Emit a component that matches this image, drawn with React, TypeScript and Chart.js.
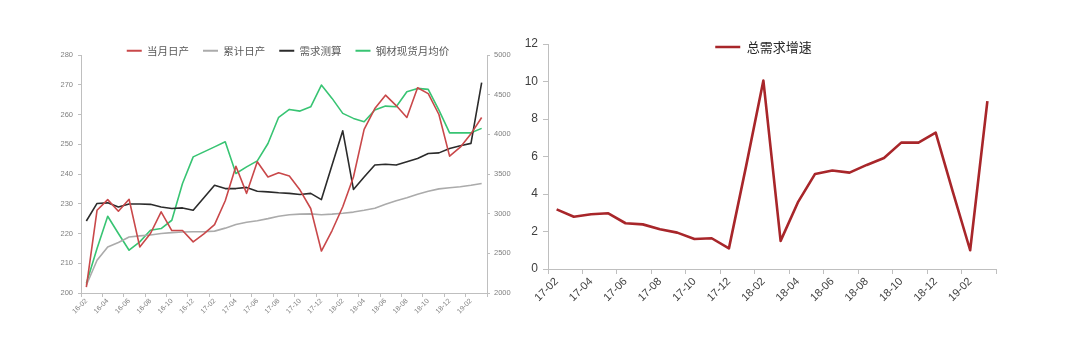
import React, { useEffect, useRef } from 'react';
import { Chart, registerables } from 'chart.js';

Chart.register(...registerables);

// ---------- Left chart data ----------
const leftMonths = [
  '16-02', '16-03', '16-04', '16-05', '16-06', '16-07', '16-08', '16-09', '16-10', '16-11', '16-12',
  '17-01', '17-02', '17-03', '17-04', '17-05', '17-06', '17-07', '17-08', '17-09', '17-10', '17-11', '17-12',
  '18-01', '18-02', '18-03', '18-04', '18-05', '18-06', '18-07', '18-08', '18-09', '18-10', '18-11', '18-12',
  '19-01', '19-02', '19-03',
];
const dailyOutput = [
  202, 227.8, 231.4, 227.5, 231.5, 215.5, 220, 227.3, 221, 221, 217.2,
  219.9, 223, 231, 242.6, 233.5, 244.1, 239, 240.4, 239.3, 234.6, 228.4, 214.1,
  221, 229, 239, 255, 262, 266.5, 263, 259, 269, 267, 260, 246,
  249, 253.5, 259,
];
const cumulativeOutput = [
  202.6, 211, 215.5, 217, 218.8, 219.2, 219.5, 220, 220.3, 220.5, 220.6,
  220.6, 220.8, 221.8, 223, 223.8, 224.3, 225, 225.8, 226.3, 226.5, 226.6, 226.3,
  226.5, 226.8, 227.2, 227.8, 228.5, 229.8, 231, 232, 233.2, 234.2, 235, 235.4,
  235.7, 236.2, 236.8,
];
const demandEstimate = [
  224.2, 230.1, 230.3, 228.9, 229.9, 229.9, 229.8, 228.9, 228.4, 228.6, 227.8,
  232, 236.2, 235.1, 235.1, 235.5, 234.2, 234, 233.7, 233.5, 233.1, 233.5, 231.4,
  243, 254.5, 234.8, 239, 243, 243.3, 243, 244.1, 245.2, 246.9, 247.1, 248.6,
  249.5, 250.3, 270.7,
];
const steelPrice = [
  2119, 2560, 2968, 2750, 2539, 2644, 2791, 2812, 2917, 3380, 3716,
  3779, 3842, 3906, 3507, 3590, 3666, 3885, 4215, 4314, 4293, 4347, 4621,
  4453, 4264, 4201, 4158, 4306, 4356, 4347, 4537, 4579, 4567, 4306, 4019,
  4019, 4019, 4075,
];
const leftSeriesNames = ['当月日产', '累计日产', '需求测算', '钢材现货月均价'];

// ---------- Right chart data ----------
const rightMonths = [
  '17-02', '17-03', '17-04', '17-05', '17-06', '17-07', '17-08', '17-09', '17-10', '17-11', '17-12',
  '18-01', '18-02', '18-03', '18-04', '18-05', '18-06', '18-07', '18-08', '18-09', '18-10', '18-11', '18-12',
  '19-01', '19-02', '19-03',
];
const demandGrowth = [
  3.18, 2.79, 2.92, 2.97, 2.44, 2.38, 2.12, 1.94, 1.6, 1.64, 1.1,
  5.5, 10.05, 1.5, 3.55, 5.07, 5.25, 5.14, 5.55, 5.92, 6.74, 6.74, 7.27,
  4.1, 1.0, 8.95,
];
const rightSeriesName = '总需求增速';

const NUM_FONT = "'Liberation Sans', Arial, sans-serif";
const CJK_FONT = "'Noto Sans CJK SC', 'Noto Sans', sans-serif";
const AXIS_COLOR = '#BFBFBF';

// Reserve a fixed legend height in the layout, then place the legend box
// centred at (cx, cy) in canvas coordinates before drawing.
function legendPlace(h: number, cx: number, cy: number, pad: number, fontSize: number) {
  return {
    id: 'legendPlace',
    beforeInit(chart: any) {
      const legend = chart.legend;
      if (!legend || legend.__patched) return;
      const orig = legend.fit;
      legend.fit = function () {
        orig.call(this);
        this.height = h;
      };
      legend.__patched = true;
    },
    beforeDraw(chart: any) {
      const lg = chart.legend;
      if (!lg) return;
      lg.top = cy - pad - fontSize / 2;
      lg.bottom = lg.top + 2 * pad + fontSize + 6;
      lg.height = lg.bottom - lg.top;
      lg.left = cx - 270;
      lg.right = cx + 270;
      lg.width = 540;
    },
  };
}

const lineLegendLabels = (chart: any) =>
  Chart.defaults.plugins.legend.labels.generateLabels(chart).map((l: any) => ({
    ...l,
    fillStyle: l.strokeStyle,
    lineWidth: 0,
  }));

const everyOther = (c: any) =>
  c.index === undefined || c.index % 2 === 0 ? AXIS_COLOR : 'rgba(0,0,0,0)';

const plainNumber = (v: any) => String(v);

function LeftChart() {
  const ref = useRef<HTMLCanvasElement | null>(null);
  useEffect(() => {
    if (!ref.current) return;
    const ds = (label: string, data: number[], color: string, axis: string) => ({
      label,
      data,
      borderColor: color,
      backgroundColor: color,
      borderWidth: 1.6,
      pointRadius: 0,
      tension: 0,
      yAxisID: axis,
      borderJoinStyle: 'round' as const,
    });
    const chart = new Chart(ref.current, {
      type: 'line',
      data: {
        labels: leftMonths,
        datasets: [
          ds(leftSeriesNames[0], dailyOutput, '#C9484A', 'y'),
          ds(leftSeriesNames[1], cumulativeOutput, '#ABABAB', 'y'),
          ds(leftSeriesNames[2], demandEstimate, '#2B2B2B', 'y'),
          ds(leftSeriesNames[3], steelPrice, '#38C473', 'y1'),
        ],
      },
      options: {
        responsive: false,
        animation: false,
        layout: { padding: { left: 46, top: 0, right: 0, bottom: 0 } },
        plugins: {
          tooltip: { enabled: false },
          legend: {
            position: 'top',
            labels: {
              boxWidth: 15,
              boxHeight: 2,
              padding: 14,
              color: '#595959',
              font: { family: CJK_FONT, size: 10.5 },
              generateLabels: lineLegendLabels,
            },
          },
        },
        scales: {
          x: {
            type: 'category',
            offset: true,
            grid: { offset: true, drawOnChartArea: false, tickLength: 4, color: everyOther },
            border: { color: AXIS_COLOR },
            ticks: {
              autoSkip: false,
              minRotation: 45,
              maxRotation: 45,
              padding: 0,
              color: '#7F7F7F',
              font: { family: NUM_FONT, size: 7 },
              callback: (_v: any, i: number) => (i % 2 === 0 ? leftMonths[i] : ''),
            },
            afterFit: (s: any) => {
              s.height = 62;
            },
          },
          y: {
            position: 'left',
            min: 200,
            max: 280,
            grid: { drawOnChartArea: false, tickLength: 3, color: AXIS_COLOR },
            border: { color: AXIS_COLOR },
            ticks: {
              stepSize: 10,
              padding: 5,
              color: '#7F7F7F',
              font: { family: NUM_FONT, size: 7.5 },
              callback: plainNumber,
            },
            afterFit: (s: any) => {
              s.width = 35;
            },
          },
          y1: {
            position: 'right',
            min: 2000,
            max: 5000,
            grid: { drawOnChartArea: false, tickLength: 3, color: AXIS_COLOR },
            border: { color: AXIS_COLOR },
            ticks: {
              stepSize: 500,
              padding: 4,
              color: '#7F7F7F',
              font: { family: NUM_FONT, size: 7.5 },
              callback: plainNumber,
            },
            afterFit: (s: any) => {
              s.width = 43;
            },
          },
        },
      },
      plugins: [legendPlace(55, 288, 50.7, 14, 10.5)],
    } as any);
    return () => chart.destroy();
  }, []);
  return (
    <canvas
      ref={ref}
      width={530}
      height={355}
      style={{ position: 'absolute', left: 0, top: 0, width: 530, height: 355 }}
    />
  );
}

function RightChart() {
  const ref = useRef<HTMLCanvasElement | null>(null);
  useEffect(() => {
    if (!ref.current) return;
    const chart = new Chart(ref.current, {
      type: 'line',
      data: {
        labels: rightMonths,
        datasets: [
          {
            label: rightSeriesName,
            data: demandGrowth,
            borderColor: '#A8262A',
            backgroundColor: '#A8262A',
            borderWidth: 2.6,
            pointRadius: 0,
            tension: 0,
            borderJoinStyle: 'round',
          },
        ],
      },
      options: {
        responsive: false,
        animation: false,
        layout: { padding: { left: 0, top: 0, right: 84, bottom: 0 } },
        plugins: {
          tooltip: { enabled: false },
          legend: {
            position: 'top',
            labels: {
              boxWidth: 25,
              boxHeight: 2.6,
              padding: 10,
              color: '#262626',
              font: { family: CJK_FONT, size: 13 },
              generateLabels: lineLegendLabels,
            },
          },
        },
        scales: {
          x: {
            type: 'category',
            offset: true,
            grid: { offset: true, drawOnChartArea: false, tickLength: 5, color: everyOther },
            border: { color: AXIS_COLOR },
            ticks: {
              autoSkip: false,
              minRotation: 45,
              maxRotation: 45,
              padding: 1,
              color: '#404040',
              font: { family: NUM_FONT, size: 11 },
              callback: (_v: any, i: number) => (i % 2 === 0 ? rightMonths[i] : ''),
            },
            afterFit: (s: any) => {
              s.height = 86;
            },
          },
          y: {
            position: 'left',
            min: 0,
            max: 12,
            grid: { drawOnChartArea: false, tickLength: 5, color: AXIS_COLOR },
            border: { color: AXIS_COLOR },
            ticks: {
              stepSize: 2,
              padding: 5,
              color: '#404040',
              font: { family: NUM_FONT, size: 12 },
              callback: plainNumber,
            },
            afterFit: (s: any) => {
              s.width = 48;
            },
          },
        },
      },
      plugins: [legendPlace(44, 263.5, 47, 10, 13)],
    } as any);
    return () => chart.destroy();
  }, []);
  return (
    <canvas
      ref={ref}
      width={580}
      height={355}
      style={{ position: 'absolute', left: 500, top: 0, width: 580, height: 355 }}
    />
  );
}

export default function App() {
  return (
    <div
      style={{
        position: 'absolute',
        left: 0,
        top: 0,
        width: 1080,
        height: 355,
        background: '#ffffff',
        overflow: 'hidden',
      }}
    >
      <LeftChart />
      <RightChart />
    </div>
  );
}
